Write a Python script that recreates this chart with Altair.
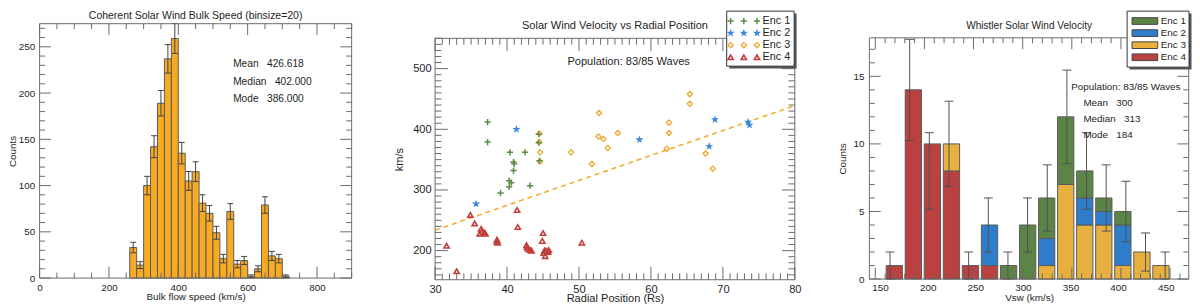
import altair as alt
import pandas as pd

FONT = "Liberation Sans"
TXT = "#1e1e1e"
FRAME = "#6a6a6a"
NB = "\u00a0"

# ---------------- Panel 1 : coherent solar wind bulk speed ----------------
hist_title = "Coherent Solar Wind Bulk Speed (binsize=20)"
hist_binsize = 20
hist_bin_lo = [260, 280, 300, 320, 340, 360, 380, 400, 420, 440, 460, 480,
               500, 520, 540, 560, 580, 600, 620, 640, 660, 680, 700]
hist_counts = [33, 14, 100, 142, 189, 237, 259, 135, 105, 115, 81, 70,
               49, 21, 72, 15, 19, 2, 10, 79, 24, 21, 2]
hist_err = [5.7, 3.7, 10.0, 11.9, 13.7, 15.4, 16.1, 11.6, 10.2, 10.7, 9.0, 8.4,
            7.0, 4.6, 8.5, 3.9, 4.4, 1.4, 3.2, 8.9, 4.9, 4.6, 1.4]
hist_stats = [("Mean", "426.618"), ("Median", "402.000"), ("Mode", "386.000")]
hist_xlabels = [0, 200, 400, 600, 800]
hist_ylabels = [0, 50, 100, 150, 200, 250]

# ---------------- Panel 2 : velocity vs radial position ----------------
sc_title = "Solar Wind Velocity vs Radial Position"
enc_names = ["Enc 1", "Enc 2", "Enc 3", "Enc 4"]
enc1_r = [37.3, 37.3, 40.4, 42.5, 40.9, 41.0, 40.9, 40.3, 40.6, 40.3, 39.1, 43.2, 44.4, 44.4, 44.5]
enc1_v = [412, 379, 362, 362, 346, 343, 332, 315, 312, 305, 295, 307, 378, 392, 348]
enc2_r = [35.7, 41.3, 58.4, 68.1, 68.9, 73.5, 73.7]
enc2_v = [277, 400, 383, 372, 416, 412, 407]
enc3_r = [44.5, 44.5, 44.6, 44.6, 48.9, 51.8, 52.8, 52.7, 53.4, 54.0, 55.4, 62.2,
          62.5, 62.5, 65.4, 65.4, 67.6, 68.6]
enc3_v = [393, 379, 362, 347, 362, 343, 427, 388, 384, 369, 394, 368,
          411, 394, 458, 442, 360, 335]
enc4_r = [31.6, 33.0, 34.9, 35.5, 36.2, 36.4, 36.5, 36.8, 37.0, 38.6, 38.6, 38.7,
          41.4, 41.5, 42.7, 42.8, 42.9, 43.2, 43.4, 45.0, 44.9, 45.1, 45.2, 45.4,
          45.7, 45.3, 45.8, 50.4]
enc4_v = [208, 166, 259, 245, 228, 236, 232, 230, 228, 218, 215, 213,
          267, 239, 209, 206, 203, 201, 200, 229, 216, 196, 200, 200,
          198, 191, 201, 213]
fit_r = [30, 80]
fit_v = [233.6, 439.0]
sc_population = "Population: 83/85 Waves"
sc_xlabels = [30, 40, 50, 60, 70, 80]
sc_ylabels = [200, 300, 400, 500]

# ---------------- Panel 3 : whistler solar wind velocity ----------------
wh_title = "Whistler Solar Wind Velocity"
wh_centers = [165, 185, 205, 225, 245, 265, 285, 305, 325, 345, 365, 385, 405, 425, 445]
wh_enc1 = [0, 0, 0, 0, 0, 0, 1, 4, 3, 5, 2, 1, 1, 0, 0]
wh_enc2 = [0, 0, 0, 0, 0, 3, 0, 0, 2, 0, 2, 1, 3, 0, 0]
wh_enc3 = [0, 0, 0, 2, 0, 0, 0, 0, 1, 7, 4, 4, 1, 2, 1]
wh_enc4 = [1, 14, 10, 8, 1, 1, 0, 0, 0, 0, 0, 0, 0, 0, 0]
wh_err_lo = [0, 10.26, 5.17, 6.84, 0, 2, 0, 2, 3.55, 8.54, 5.17, 3.55, 2.76, 0.59, 0]
wh_err_hi = [2, 17.74, 10.83, 13.16, 2, 6, 2, 6, 8.45, 15.46, 10.83, 8.45, 7.24, 3.41, 2]
wh_population = "Population: 83/85 Waves"
wh_stats = [("Mean", "300"), ("Median", "313"), ("Mode", "184")]
wh_xlabels = [150, 200, 250, 300, 350, 400, 450]
wh_ylabels = [0, 5, 10, 15]

# ---------------- styles ----------------
HIST_ORANGE = "#f8aa22"
SC_COLORS = {"Enc 1": "#5b8a45", "Enc 2": "#3a88d8", "Enc 3": "#eba92f", "Enc 4": "#c33d3d"}
BAR_COLORS = ["#5c8446", "#2e7ecb", "#e7b03f", "#bb4141"]
FIT_COLOR = "#f5a623"
PLUS = "M-1,0H1M0,-1V1"
STAR = ("M0,-1L0.235,-0.324L0.951,-0.309L0.38,0.124L0.588,0.809L0,0.4"
        "L-0.588,0.809L-0.38,0.124L-0.951,-0.309L-0.235,-0.324Z")
RECT = "M-1,-0.26H1V0.26H-1Z"
SC_STYLE = {
    "Enc 1": dict(shape=PLUS, size=40, filled=False, strokeWidth=1.5),
    "Enc 2": dict(shape=STAR, size=75, filled=True, strokeWidth=0),
    "Enc 3": dict(shape="diamond", size=28, filled=False, strokeWidth=1.3),
    "Enc 4": dict(shape="triangle-up", size=28, filled=False, strokeWidth=1.6),
}
ONE = pd.DataFrame({"k": [0]})


def text_layer(x, y, s, size, align="left", baseline="middle", line_height=None):
    kw = dict(align=align, baseline=baseline, fontSize=size, color=TXT, font=FONT)
    if line_height is not None:
        kw["lineHeight"] = line_height
    return alt.Chart(ONE).mark_text(**kw).encode(
        x=alt.value(x), y=alt.value(y), text=alt.value(s))


def rect_layer(x1, x2, y1, y2, fill, stroke=None, sw=1):
    kw = dict(fill=fill, strokeWidth=sw)
    if stroke is not None:
        kw["stroke"] = stroke
    return alt.Chart(ONE).mark_rect(**kw).encode(
        x=alt.value(x1), x2=alt.value(x2), y=alt.value(y1), y2=alt.value(y2))


def tick_layers(xt, xstep, yt, ystep, xsc, ysc, W, H, top, lmaj, lmin):
    layers = []
    groups_x = (([v for v in xt if v % xstep == 0], lmaj), ([v for v in xt if v % xstep != 0], lmin))
    groups_y = (([v for v in yt if v % ystep == 0], lmaj), ([v for v in yt if v % ystep != 0], lmin))
    for vals, L in groups_x:
        base = alt.Chart(pd.DataFrame({"t": vals})).mark_rule(color=FRAME, strokeWidth=1)
        xx = alt.X("t:Q", scale=xsc, axis=None)
        layers.append(base.encode(x=xx, y=alt.value(H), y2=alt.value(H - L)))
        layers.append(base.encode(x=xx, y=alt.value(top), y2=alt.value(top + L)))
    for vals, L in groups_y:
        base = alt.Chart(pd.DataFrame({"t": vals})).mark_rule(color=FRAME, strokeWidth=1)
        yy = alt.Y("t:Q", scale=ysc, axis=None)
        layers.append(base.encode(y=yy, x=alt.value(0), x2=alt.value(L)))
        layers.append(base.encode(y=yy, x=alt.value(W), x2=alt.value(W - L)))
    layers.append(rect_layer(0, W, top, H, "transparent", FRAME, 1))
    return layers


def x_axis(values, fs, lpad, title, tx, ty):
    return alt.Axis(values=values, labelFontSize=fs, labelPadding=lpad, labelFlush=False,
                    labelOverlap=False, ticks=False, domain=False, grid=False,
                    title=title, titleFontSize=fs, titleX=tx, titleY=ty,
                    titleAlign="center", titleBaseline="middle")


def y_axis(values, fs, lpad, title, tx, ty):
    return alt.Axis(values=values, labelFontSize=fs, labelPadding=lpad,
                    labelOverlap=False, ticks=False, domain=False, grid=False,
                    title=title, titleFontSize=fs, titleX=tx, titleY=ty, titleAngle=270,
                    titleAlign="center", titleBaseline="middle")


def stat_lines(stats):
    return [a + NB * 3 + b for a, b in stats]


# ======================= Panel 1 =======================
W1, H1 = 316, 257.6
X1 = alt.Scale(domain=[0, 900], nice=False, zero=False)
Y1 = alt.Scale(domain=[0, 275], nice=False, zero=False)
df1 = pd.DataFrame({"lo": hist_bin_lo, "n": hist_counts, "e": hist_err})
base1 = alt.Chart(df1).transform_calculate(
    hi=f"datum.lo + {hist_binsize}", c=f"datum.lo + {hist_binsize} / 2", z="0",
    up="datum.n + datum.e", dn="max(0, datum.n - datum.e)")
bars1 = base1.mark_rect(color=HIST_ORANGE, stroke="#5a5a5a", strokeWidth=1, opacity=1).encode(
    x=alt.X("lo:Q", scale=X1,
            axis=x_axis(hist_xlabels, 10, 4.4, "Bulk flow speed (km/s)", W1 / 2, 18.7)),
    x2="hi:Q",
    y=alt.Y("n:Q", scale=Y1, axis=y_axis(hist_ylabels, 10, 5, "Counts", -27, H1 / 2)),
    y2="z:Q")
err1 = base1.mark_rule(color="#404040", strokeWidth=1).encode(
    x=alt.X("c:Q", scale=X1, axis=None), y=alt.Y("dn:Q", scale=Y1, axis=None), y2="up:Q")
cap1u = base1.mark_tick(orient="horizontal", size=6, thickness=1, color="#404040", opacity=1).encode(
    x=alt.X("c:Q", scale=X1, axis=None), y=alt.Y("up:Q", scale=Y1, axis=None))
cap1d = base1.mark_tick(orient="horizontal", size=6, thickness=1, color="#404040", opacity=1).encode(
    x=alt.X("c:Q", scale=X1, axis=None), y=alt.Y("dn:Q", scale=Y1, axis=None))
layers1 = [bars1, err1, cap1u, cap1d]
layers1 += tick_layers(list(range(0, 901, 50)), 200, list(range(0, 276, 10)), 50,
                       X1, Y1, W1, H1, 0, 11.5, 5.5)
layers1.append(text_layer(W1 / 2, -7.7, hist_title, 10.6, align="center"))
layers1.append(text_layer(196, 41.3, stat_lines(hist_stats), 10.3, line_height=17.5))
left = alt.layer(*layers1).resolve_scale(x="independent", y="independent").properties(
    width=W1, height=H1)

# ======================= Panel 2 =======================
W2, H2, TOP2 = 364.3, 259.3, 14.8
X2 = alt.Scale(domain=[30, 80], nice=False, zero=False)
Y2 = alt.Scale(domain=[152, 550], nice=False, zero=False, range=[H2, TOP2])
fit = alt.Chart(pd.DataFrame({"r": fit_r, "v": fit_v})).mark_line(
    color=FIT_COLOR, strokeWidth=1.5, strokeDash=[5, 4]).encode(
    x=alt.X("r:Q", scale=X2,
            axis=x_axis(sc_xlabels, 11.2, 3.5, "Radial Position (Rs)", W2 / 2, 19.5)),
    y=alt.Y("v:Q", scale=Y2,
            axis=y_axis(sc_ylabels, 11.2, 4, "km/s", -35.7, (H2 + TOP2) / 2)))
layers2 = [fit]
enc_data = {"Enc 1": (enc1_r, enc1_v), "Enc 2": (enc2_r, enc2_v),
            "Enc 3": (enc3_r, enc3_v), "Enc 4": (enc4_r, enc4_v)}
for name in ["Enc 4", "Enc 3", "Enc 1", "Enc 2"]:
    r, v = enc_data[name]
    layers2.append(alt.Chart(pd.DataFrame({"r": r, "v": v})).mark_point(
        color=SC_COLORS[name], opacity=1, **SC_STYLE[name]).encode(
        x=alt.X("r:Q", scale=X2, axis=None), y=alt.Y("v:Q", scale=Y2, axis=None)))
layers2 += tick_layers(list(range(30, 81, 1)), 10, list(range(160, 551, 10)), 100,
                       X2, Y2, W2, H2, TOP2, 13, 6.5)
layers2.append(text_layer(W2 / 2, 2, sc_title, 11.2, align="center"))
layers2.append(text_layer(196, 39.3, sc_population, 11.2, align="center"))
# legend
leg2 = pd.DataFrame({"enc": [n for n in enc_names for _ in range(3)],
                     "idx": [i for i in range(4) for _ in range(3)],
                     "col": [c for _ in range(4) for c in range(3)]})
LX2 = alt.Scale(domain=[0, 2], range=[299.3, 326])
LY2 = alt.Scale(domain=[0, 3], range=[-2.7, 34])
layers2.append(rect_layer(295.3 + 2.5, 363.6 + 2.5, -12.7 + 2.5, 43 + 2.5, "#555555"))
layers2.append(rect_layer(295.3, 363.6, -12.7, 43, "white", "#333333", 1))
for name in enc_names:
    layers2.append(alt.Chart(leg2).transform_filter(alt.datum.enc == name).mark_point(
        color=SC_COLORS[name], opacity=1, **SC_STYLE[name]).encode(
        x=alt.X("col:Q", scale=LX2, axis=None), y=alt.Y("idx:Q", scale=LY2, axis=None)))
layers2.append(alt.Chart(leg2).transform_filter(alt.datum.col == 0).mark_text(
    align="left", baseline="middle", fontSize=11, color=TXT, font=FONT).encode(
    x=alt.value(331.6), y=alt.Y("idx:Q", scale=LY2, axis=None), text="enc:N"))
mid = alt.layer(*layers2).resolve_scale(x="independent", y="independent").properties(
    width=W2, height=H2)

# ======================= Panel 3 =======================
W3, H3, TOP3 = 323.4, 258.6, 14.3
X3 = alt.Scale(domain=[144, 469], nice=False, zero=False)
Y3 = alt.Scale(domain=[0, 17.85], nice=False, zero=False, range=[H3, TOP3])
rows = []
for i, c in enumerate(wh_centers):
    for name, vals, o in (("Enc 4", wh_enc4, 0), ("Enc 3", wh_enc3, 1),
                          ("Enc 2", wh_enc2, 2), ("Enc 1", wh_enc1, 3)):
        if vals[i] > 0:
            rows.append({"c": c, "enc": name, "n": vals[i], "o": o})
df3 = pd.DataFrame(rows)
bars3 = alt.Chart(df3).mark_bar(width=16.5, stroke="#5a5a5a", strokeWidth=1, opacity=1).encode(
    x=alt.X("c:Q", scale=X3,
            axis=x_axis(wh_xlabels, 10, 3.7, "Vsw (km/s)", 161.7, 18.4)),
    y=alt.Y("n:Q", stack="zero", scale=Y3,
            axis=y_axis(wh_ylabels, 10, 5.5, "Counts", -27.3, (H3 + TOP3) / 2)),
    color=alt.Color("enc:N", scale=alt.Scale(domain=enc_names, range=BAR_COLORS), legend=None),
    order=alt.Order("o:Q", sort="ascending"))
df3e = pd.DataFrame({"c": wh_centers, "lo": wh_err_lo, "hi": wh_err_hi})
err3 = alt.Chart(df3e).mark_rule(color="#505050", strokeWidth=1).encode(
    x=alt.X("c:Q", scale=X3, axis=None), y=alt.Y("lo:Q", scale=Y3, axis=None), y2="hi:Q")
cap3u = alt.Chart(df3e).mark_tick(orient="horizontal", size=9, thickness=1, color="#505050", opacity=1).encode(
    x=alt.X("c:Q", scale=X3, axis=None), y=alt.Y("hi:Q", scale=Y3, axis=None))
cap3d = alt.Chart(df3e).mark_tick(orient="horizontal", size=9, thickness=1, color="#505050", opacity=1).encode(
    x=alt.X("c:Q", scale=X3, axis=None), y=alt.Y("lo:Q", scale=Y3, axis=None))
layers3 = [bars3, err3, cap3u, cap3d]
layers3 += tick_layers(list(range(150, 461, 10)), 50, list(range(0, 18, 1)), 5,
                       X3, Y3, W3, H3, TOP3, 11.5, 5.5)
layers3.append(text_layer(161.7, 2, wh_title, 10.2, align="center"))
layers3.append(text_layer(204.4, 64.3, wh_population, 10))
layers3.append(text_layer(216.7, 80, stat_lines(wh_stats), 10, line_height=16.6))
leg3 = pd.DataFrame({"enc": enc_names, "idx": [0, 1, 2, 3]})
LY3 = alt.Scale(domain=[0, 3], range=[-2.7, 34])
layers3.append(rect_layer(261 + 2.5, 323.7 + 2.5, -12.7 + 2.5, 44 + 2.5, "#555555"))
layers3.append(rect_layer(261, 323.7, -12.7, 44, "white", "#333333", 1))
layers3.append(alt.Chart(leg3).mark_point(shape=RECT, size=676, filled=True, stroke="#444444",
                                          strokeWidth=1, opacity=1).encode(
    x=alt.value(279), y=alt.Y("idx:Q", scale=LY3, axis=None),
    fill=alt.Fill("enc:N", scale=alt.Scale(domain=enc_names, range=BAR_COLORS), legend=None)))
layers3.append(alt.Chart(leg3).mark_text(align="left", baseline="middle", fontSize=10,
                                         color=TXT, font=FONT).encode(
    x=alt.value(295), y=alt.Y("idx:Q", scale=LY3, axis=None), text="enc:N"))
right = alt.layer(*layers3).resolve_scale(x="independent", y="independent").properties(
    width=W3, height=H3)

chart = alt.hconcat(left, alt.hconcat(mid, right, spacing=35.8), spacing=41.5).properties(
    padding={"left": 0, "top": 0, "right": 0, "bottom": 0}
).configure_view(stroke=None).configure_axis(
    labelFont=FONT, titleFont=FONT, labelColor=TXT, titleColor=TXT, titleFontWeight="normal"
)

chart.save("out.html", embed_options={"renderer": "svg", "actions": False})
